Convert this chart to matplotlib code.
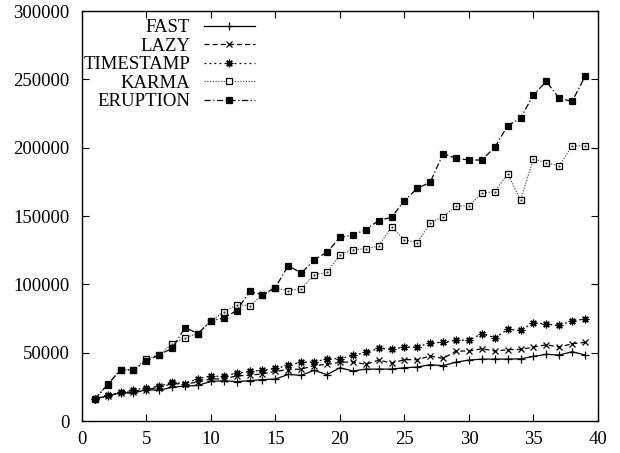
import matplotlib
matplotlib.use("Agg")
import matplotlib.pyplot as plt
import numpy as np

x = list(range(1, 40))

fast = [16000, 18500, 20500, 20500, 22900, 22500, 24700, 25600, 26000, 29000,
        29500, 28800, 29500, 30300, 30700, 34100, 33400, 37100, 33900, 39000,
        36600, 38000, 38000, 38000, 39000, 39500, 41200, 40500, 43100, 44600,
        45300, 45300, 45300, 45500, 47300, 48800, 48300, 50700, 48300]
lazy = [16000, 18500, 20500, 21500, 23000, 24500, 27400, 27000, 28600, 30700,
        31000, 33000, 33500, 34500, 36300, 37600, 38000, 40500, 41500, 42900,
        43400, 41400, 44600, 42400, 44900, 44900, 47600, 45800, 51200, 51200,
        52900, 51200, 52200, 52400, 54100, 55800, 54100, 56600, 57500]
timestamp = [16000, 19000, 21000, 22900, 24100, 25400, 28300, 27300, 31000, 32900,
             32600, 35100, 36300, 37100, 38500, 40700, 43100, 43100, 45600, 45600,
             48000, 50200, 53100, 52600, 54100, 54100, 57400, 57500, 59200, 59200,
             63900, 61000, 67000, 66300, 71900, 70900, 70000, 73400, 74600]
karma = [16000, 27000, 37500, 37400, 45600, 48500, 56600, 61000, 64000, 73300,
         79700, 85100, 84400, 92000, 97000, 95500, 96800, 107000, 108700, 121800,
         125300, 126000, 128200, 142100, 132600, 130600, 145000, 149600, 157200, 157600,
         166700, 167900, 180800, 161800, 191800, 188900, 186900, 201300, 201300]
eruption = [16000, 26600, 37500, 37400, 43900, 48500, 53200, 68400, 64000, 73300,
            75500, 80800, 94800, 92400, 97700, 113800, 108200, 118000, 123500, 134400,
            136000, 140100, 146700, 149100, 161300, 170300, 174700, 195700, 192200, 191000,
            191000, 200300, 216100, 221500, 238800, 248500, 236100, 233900, 252200]

labels = ["FAST", "LAZY", "TIMESTAMP", "KARMA", "ERUPTION"]
xticks = [0, 5, 10, 15, 20, 25, 30, 35, 40]
yticks = [0, 50000, 100000, 150000, 200000, 250000, 300000]

plt.rcParams['font.family'] = ['Liberation Serif', 'DejaVu Serif']
plt.rcParams['font.size'] = 13.5

fig = plt.figure(figsize=(6.2, 4.53), dpi=100)
ax = fig.add_axes([0.132, 0.0706, 0.8325, 0.905])

lw = 0.9
ax.plot(x, fast, color='black', lw=lw, ls='-', marker='+', ms=5.5, mew=0.9, label=labels[0])
ax.plot(x, lazy, color='black', lw=lw, ls=(0, (4, 2.5)), marker='x', ms=4.5, mew=0.9, label=labels[1])
ax.plot(x, timestamp, color='black', lw=lw, ls=(0, (1.5, 2.5)), marker=(8, 2, 0), ms=5.5, mew=0.9, label=labels[2])
ax.plot(x, karma, color='#555555', lw=lw, ls=(0, (1, 1.2)), marker='s', ms=4.8, mew=0.9,
        mfc='white', mec='black', label=labels[3])
ax.plot(x, karma, color='none', lw=0, marker='.', ms=1.2, mfc='#333333', mec='#333333')
ax.plot(x, eruption, color='black', lw=lw, ls=(0, (5, 2, 1, 2)), marker='s', ms=4.8, mew=0.9,
        mfc='black', mec='black', label=labels[4])

ax.set_xlim(0, 40)
ax.set_ylim(0, 300000)
ax.set_xticks(xticks)
ax.set_yticks(yticks)
ax.set_xticklabels([str(t) for t in xticks])
ax.set_yticklabels([str(t) for t in yticks])
ax.tick_params(direction='in', length=5, width=0.8, top=True, right=True, pad=7)
ax.tick_params(axis='y', pad=9)
for s in ax.spines.values():
    s.set_linewidth(1.0)

leg = ax.legend(loc='upper right', bbox_to_anchor=(0.335, 0.98), markerfirst=False,
                frameon=False, handlelength=2.7, handletextpad=0.75,
                labelspacing=0.07, borderaxespad=0.0, borderpad=0.0, fontsize=13.5)

fig.savefig("out.png", dpi=100)
